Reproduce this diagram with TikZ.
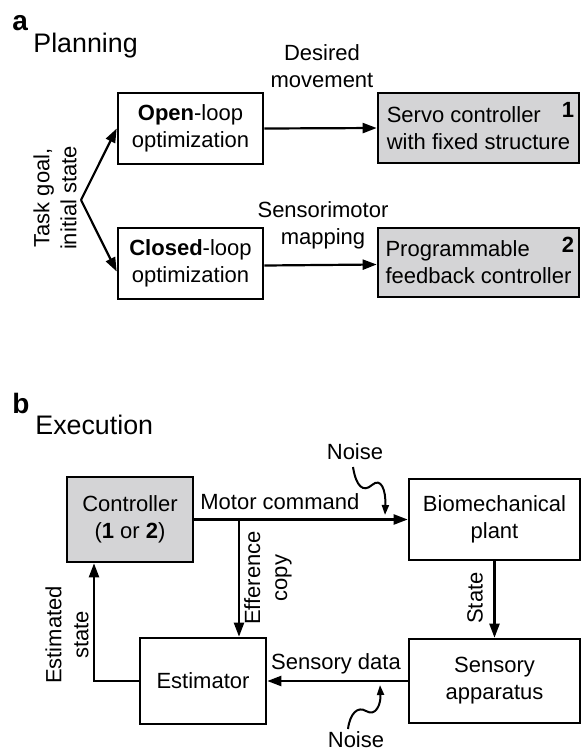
\documentclass[tikz,border=0pt]{standalone}
\usepackage{fontspec}
\setmainfont{Liberation Sans}
\usetikzlibrary{arrows.meta}

\definecolor{boxgray}{RGB}{212,212,214}
\tikzset{
  blk/.style={draw, line width=1.3pt, inner sep=0pt, align=center,
    font=\fontsize{11}{13.5}\selectfont},
  gblk/.style={blk, fill=boxgray},
  lbl/.style={inner sep=0pt, align=center, font=\fontsize{11}{13.5}\selectfont},
  arr/.style={line width=1.1pt, -{Triangle[length=7pt,width=5pt]}},
  wig/.style={line width=1pt, -{Triangle[length=5pt,width=3.5pt]}},
}

\begin{document}
\begin{tikzpicture}[x=0.5pt, y=-0.5pt]
			\useasboundingbox (0, 0) rectangle (581, 752);
			%%%%% PANEL A %%%%%
			\node[anchor=base west, inner sep=0pt, font=\fontsize{14}{14}\selectfont\bfseries] (tagA) at (12, 30) {a};
			\node[anchor=base west, inner sep=0pt, font=\fontsize{13.4}{14}\selectfont] (headA) at (33, 52) {Planning};
			
			\node[blk, minimum width=72.5pt, minimum height=35.5pt] (open) at (190.5, 128.5) {\textbf{Open}-loop\\optimization};
			\node[blk, minimum width=72.5pt, minimum height=35.5pt] (closed) at (190.5, 263.5) {\textbf{Closed}-loop\\optimization};
			\node[gblk, align=left, minimum width=100.5pt, minimum height=35pt] (servo) at (478.5, 128) {Servo controller\\with fixed structure};
			\node[gblk, align=left, minimum width=100.5pt, minimum height=34.5pt] (prog) at (478.5, 262.5) {Programmable\\feedback controller};
			\node[lbl, font=\fontsize{11}{13.5}\selectfont\bfseries] (one) at (568, 110) {1};
			\node[lbl, font=\fontsize{11}{13.5}\selectfont\bfseries] (two) at (568, 245) {2};
			
			\coordinate (fork) at (81, 200);
			\node[lbl, rotate=90] (goal) at (55, 198) {Task goal,\\initial state};
			\draw[arr] (fork) -- (open.west);
			\draw[arr] (fork) -- ([yshift=-4pt]closed.west);
			
			\draw[arr] (open.east) -- (servo.west);
			\node[lbl] (desired) at (322, 66) {Desired\\movement};
			\draw[arr] ([yshift=-1pt]closed.east) -- ([yshift=-1pt]prog.west);
			\node[lbl] (sensmap) at (323, 225) {Sensorimotor\\mapping};
			
			%%%%% PANEL B %%%%%
			\node[anchor=base west, inner sep=0pt, font=\fontsize{14}{14}\selectfont\bfseries] (tagB) at (12, 413) {b};
			\node[anchor=base west, inner sep=0pt, font=\fontsize{13.4}{14}\selectfont] (headB) at (35, 434) {Execution};
			
			\node[gblk, minimum width=63pt, minimum height=42.5pt] (ctrl) at (130, 519.5) {Controller\\(\textbf{1} or \textbf{2})};
			\node[blk, minimum width=85.5pt, minimum height=40.5pt] (plant) at (494.5, 519.5) {Biomechanical\\plant};
			\node[blk, minimum width=63pt, minimum height=43pt] (est) at (203, 681) {Estimator};
			\node[blk, minimum width=85.5pt, minimum height=42pt] (sens) at (494.5, 681) {Sensory\\apparatus};
			
			% motor command and its copy
			\draw[arr] (ctrl.east) -- (plant.west);
			\node[lbl, anchor=base west] (motor) at (200, 509) {Motor command};
			\coordinate (split) at (239, 519.5);
			\draw[arr] (split) -- (split |- est.north);
			\node[lbl, rotate=90] (effcopy) at (268, 578) {Efference\\copy};
			
			% state path
			\draw[arr] (plant.south) -- (sens.north);
			\node[lbl, rotate=90] (state) at (475, 598) {State};
			\draw[arr] (sens.west) -- (est.east);
			\node[lbl, anchor=base] (sdata) at (336, 669) {Sensory data};
			\draw[arr] (est.west) -| ([xshift=-18pt]ctrl.south);
			\node[lbl, rotate=90] (eststate) at (67, 635) {Estimated\\state};
			
			% noise
			\node[lbl] (noiseA) at (355, 452) {Noise};
			\draw[wig] (353, 467) .. controls (356, 486) and (363, 493) .. (372, 485) .. controls (381, 477) and (386, 490) .. (385, 515);
			\node[lbl] (noiseB) at (356, 740) {Noise};
			\draw[wig] (348, 729) .. controls (350, 713) and (358, 706) .. (366, 711) .. controls (376, 717) and (381, 704) .. (380, 685);
			%%%%% END %%%%%
\end{tikzpicture}
\end{document}
